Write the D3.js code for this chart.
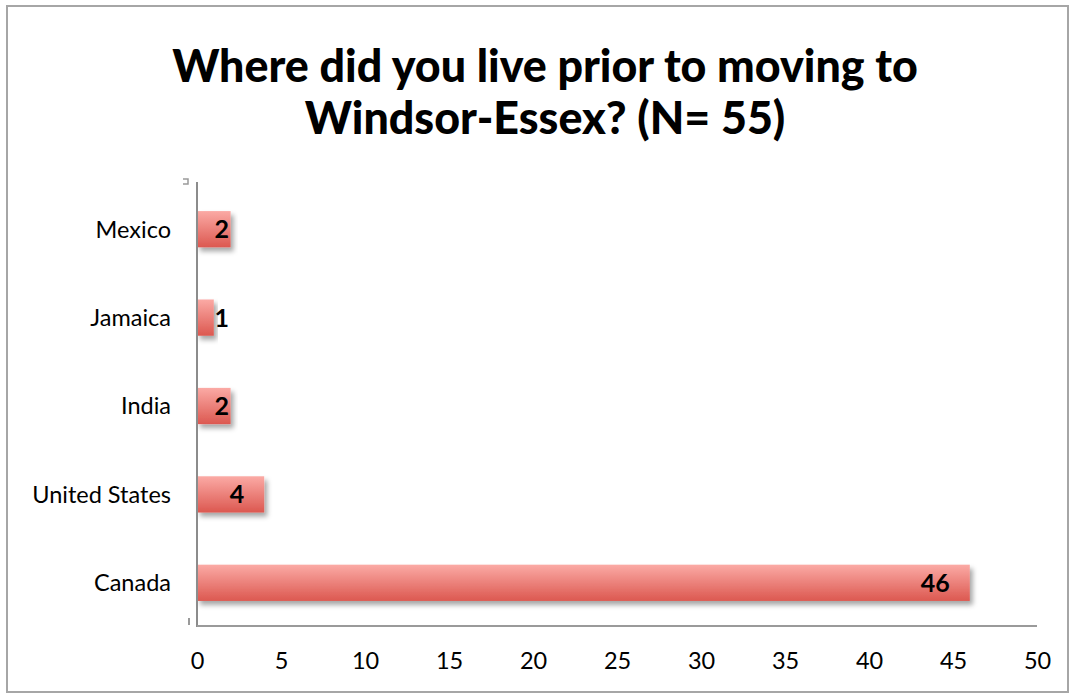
<!DOCTYPE html>
<html><head><meta charset="utf-8">
<script src="https://cdn.jsdelivr.net/npm/d3@7"></script>
<style>body{margin:0;background:#fff}svg{display:block}</style>
</head><body>
<svg id="c" width="1073" height="695"></svg>
<script>
const categories = ["Canada", "United States", "India", "Jamaica", "Mexico"];
const values = [46, 4, 2, 1, 2];
const xTicks = [0, 5, 10, 15, 20, 25, 30, 35, 40, 45, 50];
const titleLines = ["Where did you live prior to moving to", "Windsor-Essex? (N= 55)"];

const svg = d3.select("#c");
const FONT = "Lato, 'Open Sans', sans-serif";

const defs = svg.append("defs");
const grad = defs.append("linearGradient").attr("id", "g").attr("x1", 0).attr("y1", 0).attr("x2", 0).attr("y2", 1);
grad.append("stop").attr("offset", "0%").attr("stop-color", "#fbaaa5");
grad.append("stop").attr("offset", "100%").attr("stop-color", "#dc5850");
const f = defs.append("filter").attr("id", "sh").attr("x", "-10%").attr("y", "-30%").attr("width", "130%").attr("height", "180%");
f.append("feDropShadow").attr("dx", 3).attr("dy", 4).attr("stdDeviation", 2.5).attr("flood-color", "#000").attr("flood-opacity", 0.35);

// border
svg.append("rect").attr("x", 7).attr("y", 6).attr("width", 1061).attr("height", 686)
  .attr("fill", "#fff").attr("stroke", "#a6a6a6").attr("stroke-width", 2);

// title
const title = svg.append("text").attr("font-family", FONT).attr("font-weight", "900").attr("text-anchor", "middle").attr("fill", "#000");
titleLines.forEach((t, i) => title.append("tspan").attr("x", 545).attr("y", 82 + i * 52).text(t));
title.attr("font-size", 40);
const w0 = title.select("tspan").node().getComputedTextLength();
title.attr("font-size", 40 * 746 / w0);

const x = d3.scaleLinear().domain([0, 50]).range([197, 1037]);
const y = d3.scaleBand().domain(categories.slice().reverse()).range([185, 627]).paddingInner(0.59).paddingOuter(0.295);

// bars
svg.append("g").selectAll("rect").data(categories).join("rect")
  .attr("x", x(0)).attr("y", d => y(d))
  .attr("width", (d, i) => x(values[i]) - x(0)).attr("height", y.bandwidth())
  .attr("fill", "url(#g)").attr("filter", "url(#sh)");

// y axis
const ya = svg.append("g").attr("transform", `translate(${x(0)},0)`)
  .call(d3.axisLeft(y).tickSize(0).tickSizeOuter(0).tickPadding(26));
ya.select(".domain").remove();
ya.selectAll("text").attr("font-family", FONT).attr("font-size", 23.5).attr("fill", "#000").attr("dy", "0.36em");
svg.append("line").attr("x1", x(0)).attr("x2", x(0)).attr("y1", 182).attr("y2", 627).attr("stroke", "#8c8c8c").attr("stroke-width", 2);

// x axis
const xa = svg.append("g").attr("transform", `translate(0,627)`)
  .call(d3.axisBottom(x).tickValues(xTicks).tickSize(0).tickSizeOuter(0));
xa.select(".domain").remove();
xa.selectAll("text").attr("font-family", FONT).attr("font-size", 23.5).attr("fill", "#000").attr("y", 34).attr("dy", "0.36em");
svg.append("line").attr("x1", x(0)).attr("x2", x(50)).attr("y1", 626).attr("y2", 626).attr("stroke", "#9a9a9a").attr("stroke-width", 2);

// small artifact marks
svg.append("path").attr("d", "M183,179 h5 v5 h-5").attr("fill", "none").attr("stroke", "#9a9a9a").attr("stroke-width", 1.5);
svg.append("line").attr("x1", 189).attr("x2", 189).attr("y1", 618).attr("y2", 625).attr("stroke", "#9a9a9a").attr("stroke-width", 2);

// value labels
svg.append("g").selectAll("text").data(categories).join("text")
  .attr("x", (d, i) => Math.max(x(values[i]) - 20, x(0) + 32))
  .attr("y", d => y(d) + y.bandwidth() / 2).attr("dy", "0.36em")
  .attr("text-anchor", "end").attr("font-family", FONT).attr("font-weight", "bold").attr("font-size", 25).attr("fill", "#000")
  .text((d, i) => values[i]);
</script>
</body></html>
